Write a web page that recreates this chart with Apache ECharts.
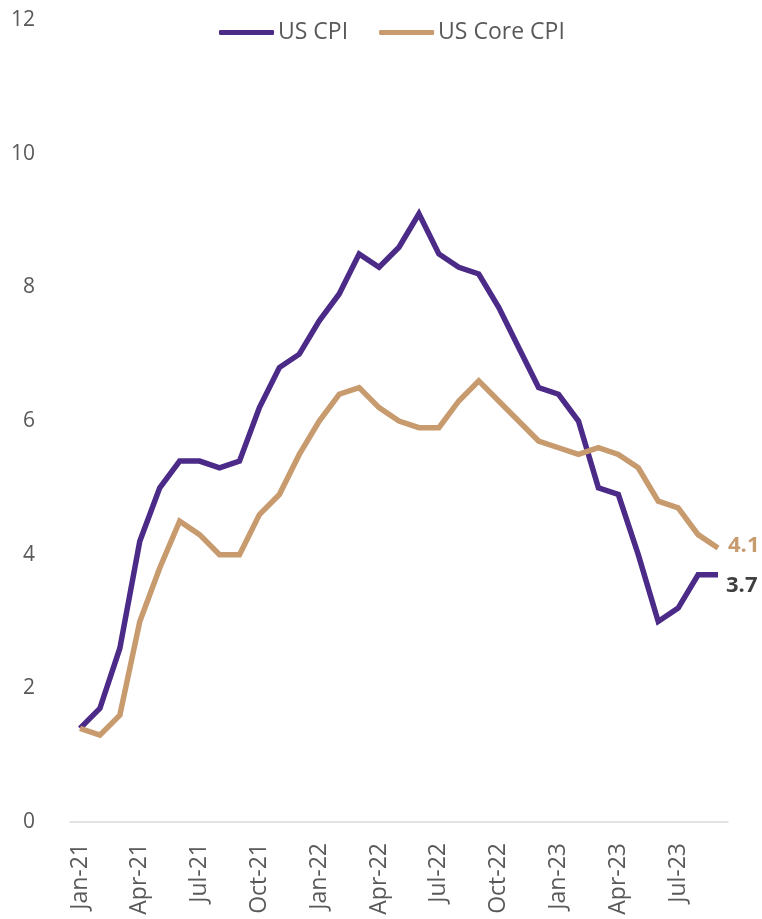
<!DOCTYPE html>
<html>
<head>
<meta charset="utf-8">
<style>
  html, body { margin: 0; padding: 0; background: #fff; }
  #chart { width: 762px; height: 919px; }
</style>
<script src="https://cdn.jsdelivr.net/npm/echarts@6/dist/echarts.min.js"></script>
</head>
<body>
<div id="chart"></div>
<script>
// Monthly year-on-year inflation, Jan-21 to Sep-23
const months = [
  'Jan-21','Feb-21','Mar-21','Apr-21','May-21','Jun-21','Jul-21','Aug-21','Sep-21','Oct-21','Nov-21','Dec-21',
  'Jan-22','Feb-22','Mar-22','Apr-22','May-22','Jun-22','Jul-22','Aug-22','Sep-22','Oct-22','Nov-22','Dec-22',
  'Jan-23','Feb-23','Mar-23','Apr-23','May-23','Jun-23','Jul-23','Aug-23','Sep-23'
];
const usCpi = [
  1.4, 1.7, 2.6, 4.2, 5.0, 5.4, 5.4, 5.3, 5.4, 6.2, 6.8, 7.0,
  7.5, 7.9, 8.5, 8.3, 8.6, 9.1, 8.5, 8.3, 8.2, 7.7, 7.1, 6.5,
  6.4, 6.0, 5.0, 4.9, 4.0, 3.0, 3.2, 3.7, 3.7
];
const usCoreCpi = [
  1.4, 1.3, 1.6, 3.0, 3.8, 4.5, 4.3, 4.0, 4.0, 4.6, 4.9, 5.5,
  6.0, 6.4, 6.5, 6.2, 6.0, 5.9, 5.9, 6.3, 6.6, 6.3, 6.0, 5.7,
  5.6, 5.5, 5.6, 5.5, 5.3, 4.8, 4.7, 4.3, 4.1
];
const seriesNames = ['US CPI', 'US Core CPI'];

const PURPLE = '#4b2a88';
const TAN = '#c89b6f';
const FONT = '"Open Sans", "Noto Sans", sans-serif';

const chart = echarts.init(document.getElementById('chart'), null, { renderer: 'canvas' });
chart.setOption({
  animation: false,
  textStyle: { fontFamily: FONT },
  legend: {
    top: 21,
    left: 219,
    padding: 0,
    icon: 'roundRect',
    itemWidth: 55,
    itemHeight: 5,
    itemGap: 31,
    textStyle: { fontSize: 23, color: '#595959', fontFamily: FONT, padding: [0, 0, 0, -1] },
    data: seriesNames
  },
  grid: { left: 70, right: 34, top: 20, bottom: 97, containLabel: false },
  xAxis: {
    type: 'category',
    data: months,
    boundaryGap: true,
    axisLine: { lineStyle: { color: '#d9d9d9', width: 1.5 } },
    axisTick: { show: false },
    axisLabel: {
      interval: 2,
      rotate: 90,
      margin: 21,
      fontSize: 23,
      color: '#595959',
      fontFamily: FONT
    }
  },
  yAxis: {
    type: 'value',
    min: 0,
    max: 12,
    interval: 2,
    splitLine: { show: false },
    axisLine: { show: false },
    axisTick: { show: false },
    axisLabel: { fontSize: 21, color: '#595959', margin: 35, fontFamily: FONT }
  },
  series: [
    {
      name: seriesNames[0],
      type: 'line',
      data: usCpi,
      symbol: 'none',
      itemStyle: { color: PURPLE },
      lineStyle: { color: PURPLE, width: 5.5, join: 'miter' },
      endLabel: {
        show: true,
        formatter: p => p.value.toFixed(1),
        color: '#404040',
        fontWeight: 'bold',
        fontSize: 22,
        fontFamily: FONT,
        offset: [0, 11]
      }
    },
    {
      name: seriesNames[1],
      type: 'line',
      data: usCoreCpi,
      symbol: 'none',
      itemStyle: { color: TAN },
      lineStyle: { color: TAN, width: 5.5, join: 'miter' },
      endLabel: {
        show: true,
        formatter: p => p.value.toFixed(1),
        color: TAN,
        fontWeight: 'bold',
        fontSize: 22,
        fontFamily: FONT,
        offset: [2, -2]
      }
    }
  ]
});
</script>
</body>
</html>
